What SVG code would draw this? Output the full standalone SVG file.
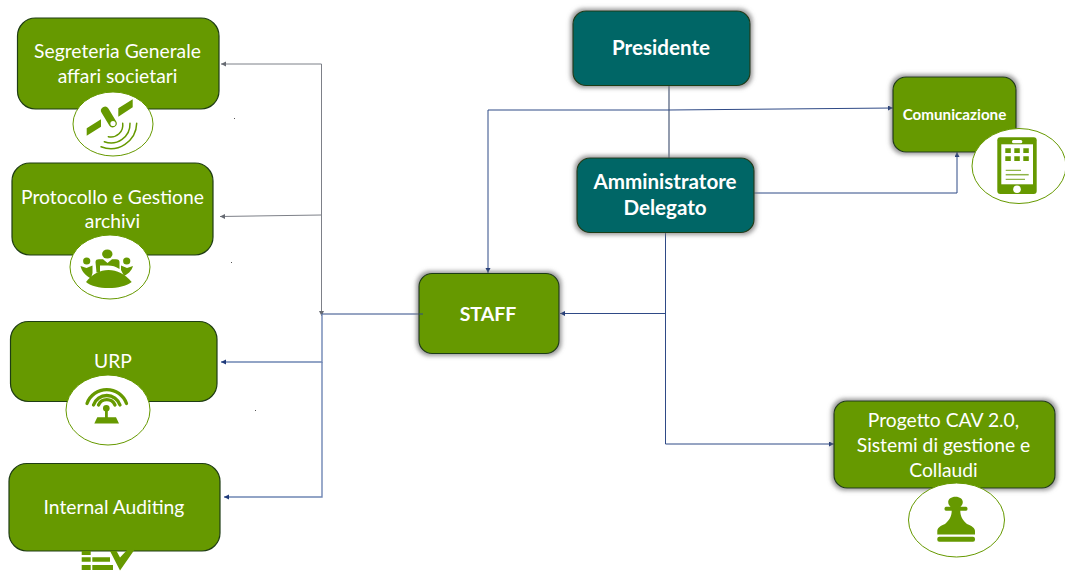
<svg xmlns="http://www.w3.org/2000/svg" width="1065" height="572" viewBox="0 0 1065 572">
<style>
.box{stroke:#1f3d14;stroke-width:1.2}
.g{fill:#669900}
.t{fill:#006666}
.lbl{font-family:Lato,"Liberation Sans",sans-serif;fill:#fff;text-anchor:middle}
.reg{font-size:19.300px}
.bold{font-size:20.600px;font-weight:700}
.circ{fill:#fff;stroke:#669900;stroke-width:1}
.ic{fill:#669900}
.arc{fill:none;stroke:#669900;stroke-linecap:round}
.c{fill:none;stroke:#2f4a86;stroke-width:1}
.cg{fill:none;stroke:#7d8088;stroke-width:1}
.cd{fill:none;stroke:#4a5a78;stroke-width:1.2}
.cm{fill:none;stroke:#6f86b4;stroke-width:1.4}
</style>
<defs>
<filter id="glow" x="-15%" y="-15%" width="130%" height="130%">
<feMorphology in="SourceAlpha" operator="dilate" radius="2" result="d"/>
<feGaussianBlur in="d" stdDeviation="2.200" result="b"/>
<feFlood flood-color="#777" flood-opacity="0.75"/>
<feComposite in2="b" operator="in" result="s"/>
<feMerge><feMergeNode in="s"/><feMergeNode in="SourceGraphic"/></feMerge>
</filter>
<marker id="a" markerUnits="userSpaceOnUse" markerWidth="6" markerHeight="6" refX="5" refY="2.5" orient="auto"><path d="M0 0L5 2.5L0 5Z" fill="#1f3a7a"/></marker>
<marker id="ag" markerUnits="userSpaceOnUse" markerWidth="6" markerHeight="6" refX="5" refY="2.5" orient="auto"><path d="M0 0L5 2.5L0 5Z" fill="#666a72"/></marker>
</defs>

<g id="connectors">
<path class="cd" d="M669 85V158"/>
<path class="c" d="M669 110H488V273" marker-end="url(#a)"/>
<path class="c" d="M669 110L893 108" marker-end="url(#a)"/>
<path class="c" d="M754 193H957V152" marker-end="url(#a)"/>
<path class="c" d="M665.500 232V444H834" marker-end="url(#a)"/>
<path class="c" d="M665.500 313.500H560" marker-end="url(#a)"/>
<path class="cg" d="M321.500 64V316" marker-end="url(#ag)"/>
<path class="cg" d="M321.500 64H221" marker-end="url(#ag)"/>
<path class="cg" d="M321.500 215L220 216.500" marker-end="url(#ag)"/>
<path class="c" d="M423 314H322" stroke-width="1.400"/>
<path class="cm" d="M322 314V362H221" marker-end="url(#a)"/>
<path class="cm" d="M322 362V497H224" marker-end="url(#a)"/>
</g>

<g id="node-segreteria">
<rect class="box g" x="17.500" y="18" width="201.500" height="91" rx="18"/>
<text class="lbl reg" x="117.500" y="58">Segreteria Generale</text>
<text class="lbl reg" x="117.500" y="83">affari societari</text>
<ellipse class="circ" cx="113" cy="124" rx="40" ry="32"/>
<path class="ic" d="M118.300 108.300L132.700 99.300V107.300L118.300 116.700ZM86.700 128.300L101 119.300V126.700L86.700 135.700Z"/>
<path d="M105 110.700L112.700 123.300" fill="none" stroke="#669900" stroke-width="8" stroke-linecap="round"/>
<circle cx="113" cy="123.500" r="2.600" fill="#fff"/>
<path class="arc" stroke-width="1.500" d="M122.700 123.300A12 12 0 0 1 108.300 136.700M130 123.300A19 19 0 0 1 104.300 141.700M136.700 123.300A26 26 0 0 1 101 146.700"/>
</g>

<g id="node-protocollo">
<rect class="box g" x="12" y="163" width="201" height="92" rx="18"/>
<text class="lbl reg" x="112.500" y="204">Protocollo e Gestione</text>
<text class="lbl reg" x="112.500" y="228">archivi</text>
<ellipse class="circ" cx="110" cy="267" rx="40" ry="32"/>
<path class="ic" d="M86 282C92 274 100 270 108.500 270C117 270 125 274 131.700 282C126 286 118 288 108.500 288C99 288 91 286 86 282Z"/>
<ellipse class="ic" cx="107.300" cy="254" rx="5.200" ry="4.600"/>
<path class="ic" d="M95.500 262C95.500 260 97 259.300 99 259.300L103 259.300L107.500 263L112 259.300H116C118.500 259.300 119.500 260.500 119.500 262V269C116 266.500 112 265.500 108 265.500H100V272.500H96.500Z"/>
<circle class="ic" cx="86.700" cy="261" r="3.600"/><circle class="ic" cx="126.700" cy="261" r="3.600"/>
<path class="ic" d="M80.500 266L86.500 268L92.500 265.500V273L91 278.500C86 276 82 272 80.500 266ZM133 266L127 268L121 265.500V270L124 276C128 274 131.500 271 133 266Z"/>
</g>

<g id="node-urp">
<rect class="box g" x="10.500" y="321.500" width="206.500" height="80" rx="18"/>
<text class="lbl reg" x="113" y="368">URP</text>
<ellipse class="circ" cx="108" cy="410" rx="42" ry="35"/>
<path class="arc" stroke-width="3.300" d="M87 403.500A21 21 0 0 1 126.500 403.500M93.500 405A14 14 0 0 1 120 405M98.500 405A9 9 0 0 1 115 405"/>
<circle class="ic" cx="106.300" cy="408.300" r="3.300"/>
<path class="ic" d="M105 409H107.800V417.300H116L119 423.500H94.300L97.300 417.300H105Z"/>
</g>

<g id="node-internal">
<rect class="box g" x="9" y="463.500" width="211" height="87.500" rx="18"/>
<text class="lbl reg" x="114" y="513.500">Internal Auditing</text>
<path class="ic" d="M81.700 551H90.700V555H81.700ZM81.700 557.300H90.700V561.700H81.700ZM81.700 565H90.700V570H81.700ZM92.300 557.300H110V561.700H92.300ZM92.300 565H113V570H92.300ZM110 551H116.500L120 557.500L128 549H135L120 570.500Z"/>
</g>

<g id="node-presidente" filter="url(#glow)">
<rect class="box t" x="573" y="11" width="177" height="74.500" rx="13"/>
</g>
<text class="lbl bold" x="661" y="55">Presidente</text>

<g id="node-ad" filter="url(#glow)">
<rect class="box t" x="577" y="158" width="177" height="74.500" rx="13"/>
</g>
<text class="lbl bold" x="665" y="189">Amministratore</text>
<text class="lbl bold" x="665" y="215">Delegato</text>

<g id="node-staff" filter="url(#glow)">
<rect class="box g" x="419" y="273.500" width="140" height="80" rx="13"/>
</g>
<text class="lbl" x="488" y="320.500" font-size="19.500" font-weight="700">STAFF</text>
<path class="c" d="M419 314H423" stroke-width="1.400"/>

<g id="node-comunicazione">
<rect class="box g" filter="url(#glow)" x="893" y="77" width="123" height="75" rx="13"/>
<text class="lbl" x="954.500" y="120" font-size="15.200" font-weight="700">Comunicazione</text>
<ellipse class="circ" cx="1019" cy="166" rx="47" ry="37.500"/>
<rect class="ic" x="997.300" y="137.300" width="39.400" height="56.700" rx="3"/>
<rect x="1001.300" y="144.300" width="31.700" height="40" fill="#fff"/>
<rect x="1012" y="140" width="10.300" height="3.300" rx="1.500" fill="#fff"/>
<path class="ic" d="M1005.300 148.300h5.500v4.600h-5.500zM1014.300 148.300h5.500v4.600h-5.500zM1023.300 148.300h5.500v4.600h-5.500zM1005.300 156.300h5.500v4.600h-5.500zM1014.300 156.300h5.500v4.600h-5.500zM1023.300 156.300h5.500v4.600h-5.500z"/>
<path d="M1005.700 170.300H1021M1005.700 179.300H1025" stroke="#669900" stroke-width="0.900"/>
<path d="M1005.700 174.700H1028.700" stroke="#8fb347" stroke-width="1.500"/>
<circle cx="1017" cy="189.300" r="3.800" fill="#fff"/>
</g>

<g id="node-progetto">
<rect class="box g" filter="url(#glow)" x="834" y="401" width="221" height="87" rx="13"/>
<text class="lbl reg" x="943.500" y="426.500">Progetto CAV 2.0,</text>
<text class="lbl reg" x="943.500" y="452">Sistemi di gestione e</text>
<text class="lbl reg" x="943.500" y="476.500">Collaudi</text>
<ellipse class="circ" cx="956.500" cy="520" rx="48" ry="37"/>
<path class="ic" d="M955.500 496.700C959.800 496.700 962.800 499 962.800 502C962.800 504 961.800 505.500 960.500 506.700H966C968 506.700 968 510.700 966 510.700H960.300C960.300 516 962.500 520 967 524C972 526 975 528 975 531V534.500H937.300V531C937.300 528 940 526 945 524C949.500 520 951.700 516 951.700 510.700H946C944 510.700 944 506.700 946 506.700H950.500C949.200 505.500 948.200 504 948.200 502C948.200 499 951.200 496.700 955.500 496.700Z"/>
<rect class="ic" x="937.300" y="536.700" width="37.700" height="5" rx="2"/>
</g>

<g id="specks" fill="#555"><rect x="234" y="118" width="1" height="1"/><rect x="231" y="262" width="1" height="1"/><rect x="255" y="410" width="1" height="1"/></g>
</svg>
